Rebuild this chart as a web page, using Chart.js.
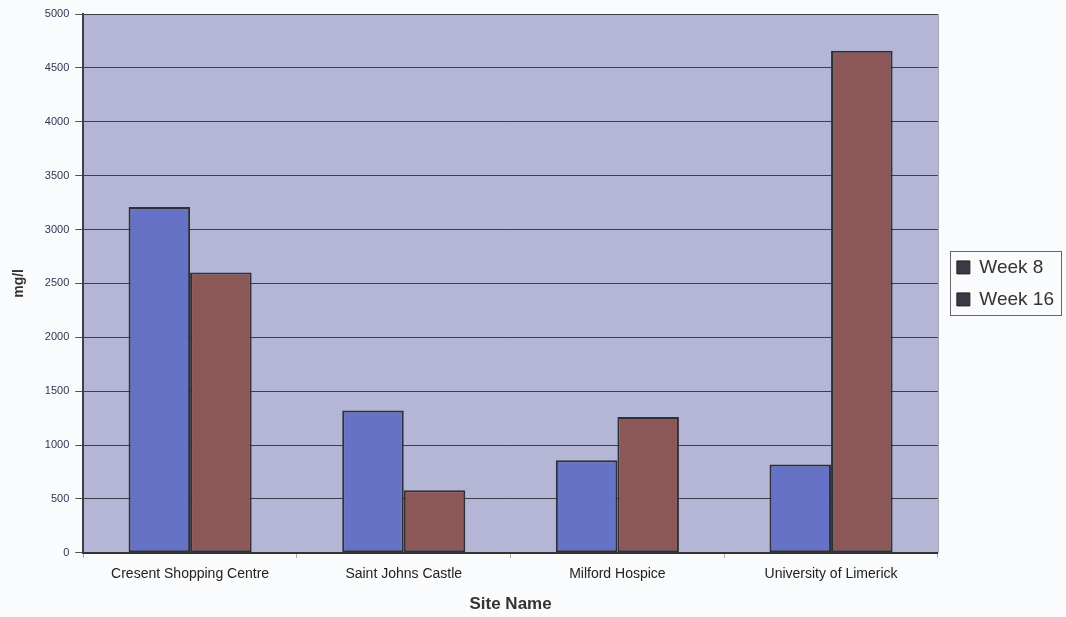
<!DOCTYPE html>
<html>
<head>
<meta charset="utf-8">
<script src="https://cdn.jsdelivr.net/npm/chart.js@4"></script>
<style>
  html, body { margin: 0; padding: 0; background: #fafbfc; }
  #wrap { width: 1066px; height: 617px; }
</style>
</head>
<body>
<div id="wrap"><canvas id="chart" width="1066" height="617"></canvas></div>
<script>
        // Daten
        const categories = ['Cresent Shopping Centre', 'Saint Johns Castle', 'Milford Hospice', 'University of Limerick'];
        const week8 = [3210, 1320, 860, 820];
        const week16 = [2600, 580, 1260, 4660];
        const seriesNames = ['Week 8', 'Week 16'];
        const yTicks = [0, 500, 1000, 1500, 2000, 2500, 3000, 3500, 4000, 4500, 5000];

        // Abstand zwischen Plotfläche und Legende
        const legendGap = 6;

        // Plotfläche einfärben und Legende umrahmen
        const plotBackground = {
            id: 'plotBackground',
            afterInit(chart) {
                // Legende etwas breiter machen, damit die Plotfläche schmaler wird
                const legend = chart.legend;
                const origFit = legend.fit;
                legend.fit = function () {
                    origFit.call(this);
                    this.width += legendGap;
                };
            },
            afterLayout(chart) {
                chart.legend.left += legendGap;
                chart.legend.right += legendGap;
            },
            beforeDraw(chart) {
                const a = chart.chartArea;
                const ctx = chart.ctx;
                ctx.save();
                ctx.fillStyle = '#b5b5d6';
                ctx.fillRect(a.left, a.top, a.right - a.left, a.bottom - a.top);
                ctx.strokeStyle = '#9a9aa8';
                ctx.lineWidth = 1;
                ctx.beginPath();
                ctx.moveTo(a.right + 0.5, a.top);
                ctx.lineTo(a.right + 0.5, a.bottom);
                ctx.stroke();
                ctx.restore();
            },
            afterDraw(chart) {
                const boxes = chart.legend.legendHitBoxes;
                if (!boxes || !boxes.length) return;
                const first = boxes[0];
                const last = boxes[boxes.length - 1];
                const right = Math.max(...boxes.map(b => b.left + b.width));
                const ctx = chart.ctx;
                ctx.save();
                ctx.strokeStyle = '#666';
                ctx.lineWidth = 1;
                ctx.strokeRect(Math.round(first.left) - 6.5, Math.round(first.top) - 6.5,
                    Math.round(right - first.left) + 14, Math.round(last.top + last.height - first.top) + 13);
                ctx.restore();
            }
        };

        const ctx = document.getElementById('chart').getContext('2d');
        new Chart(ctx, {
            type: 'bar',
            data: {
                labels: categories,
                datasets: [{
                    label: seriesNames[0],
                    data: week8,
                    backgroundColor: '#6572c6',
                    borderColor: '#2e3036',
                    borderWidth: 2,
                    borderSkipped: false
                }, {
                    label: seriesNames[1],
                    data: week16,
                    backgroundColor: '#8c5757',
                    borderColor: '#2e3036',
                    borderWidth: 2,
                    borderSkipped: false
                }]
            },
            options: {
                responsive: false,
                animation: false,
                layout: { padding: { top: 14, right: 2, bottom: 2, left: 11 } },
                datasets: {
                    bar: { categoryPercentage: 0.576, barPercentage: 1.0 }
                },
                plugins: {
                    tooltip: { enabled: false },
                    legend: {
                        position: 'right',
                        fullSize: false,
                        labels: {
                            font: { family: 'Arial, "Liberation Sans"', size: 19 },
                            color: '#333',
                            boxWidth: 13,
                            boxHeight: 13,
                            padding: 13,
                            generateLabels(chart) {
                                return chart.data.datasets.map((ds, i) => ({
                                    text: ds.label,
                                    fillStyle: '#3a3a44',
                                    strokeStyle: '#222',
                                    lineWidth: 1,
                                    datasetIndex: i,
                                    fontColor: '#333'
                                }));
                            }
                        }
                    }
                },
                scales: {
                    x: {
                        grid: {
                            display: true,
                            drawOnChartArea: false,
                            offset: true,
                            tickLength: 5,
                            color: '#aaa'
                        },
                        border: { color: '#333', width: 2 },
                        ticks: {
                            font: { family: 'Arial, "Liberation Sans"', size: 14 },
                            color: '#222',
                            padding: 8,
                            maxRotation: 0
                        },
                        title: {
                            display: true,
                            text: 'Site Name',
                            font: { family: 'Arial, "Liberation Sans"', size: 17, weight: 'bold' },
                            color: '#333',
                            padding: { top: 4, bottom: 0 }
                        }
                    },
                    y: {
                        min: 0,
                        max: 5000,
                        afterBuildTicks(axis) {
                            axis.ticks = yTicks.map(v => ({ value: v }));
                        },
                        ticks: {
                            font: { family: 'Arial, "Liberation Sans"', size: 11 },
                            color: '#333350',
                            padding: 6,
                            callback: value => String(value)
                        },
                        grid: {
                            color: '#3c3e48',
                            lineWidth: 1,
                            tickLength: 8,
                            tickColor: '#555'
                        },
                        border: { color: '#3c3e48', width: 2 },
                        title: {
                            display: true,
                            text: 'mg/l',
                            font: { family: 'Arial, "Liberation Sans"', size: 14, weight: 'bold' },
                            color: '#333',
                            padding: { top: 0, bottom: 11 }
                        }
                    }
                }
            },
            plugins: [plotBackground]
        });
</script>
</body>
</html>
